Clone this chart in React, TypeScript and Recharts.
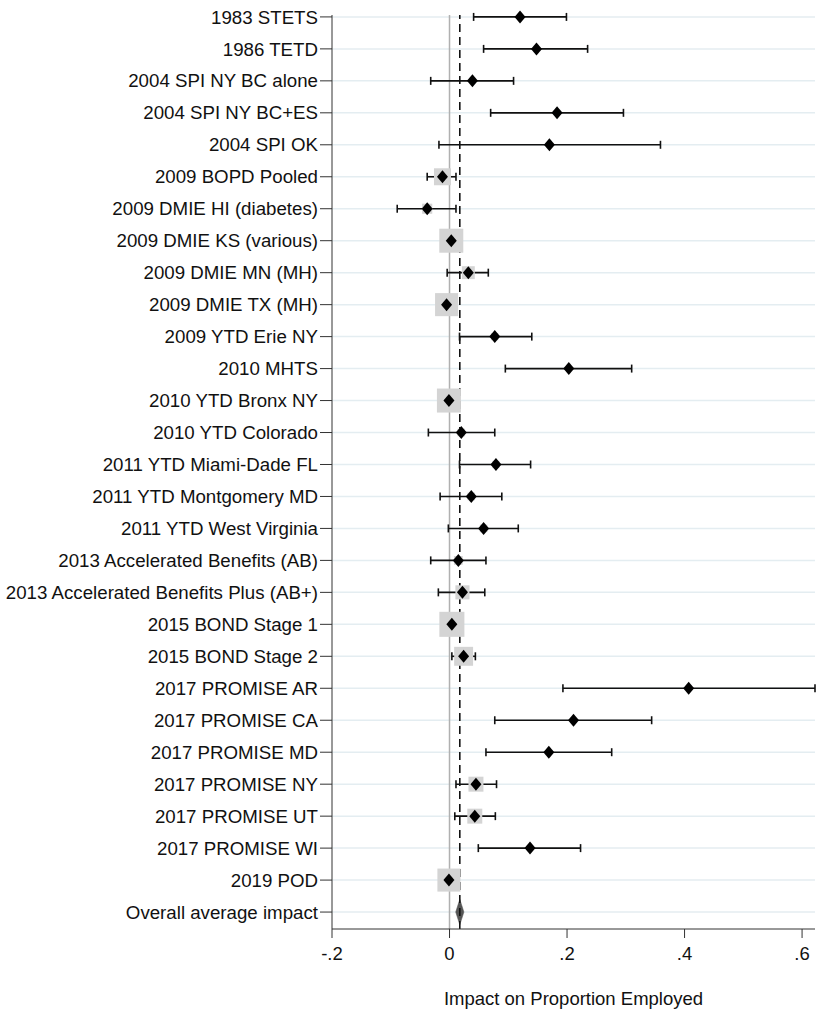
import {
  CartesianGrid,
  ErrorBar,
  ReferenceArea,
  ReferenceLine,
  Scatter,
  ScatterChart,
  XAxis,
  YAxis,
} from "recharts";

const studies = [
  "1983 STETS",
  "1986 TETD",
  "2004 SPI NY BC alone",
  "2004 SPI NY BC+ES",
  "2004 SPI OK",
  "2009 BOPD Pooled",
  "2009 DMIE HI (diabetes)",
  "2009 DMIE KS (various)",
  "2009 DMIE MN (MH)",
  "2009 DMIE TX (MH)",
  "2009 YTD Erie NY",
  "2010 MHTS",
  "2010 YTD Bronx NY",
  "2010 YTD Colorado",
  "2011 YTD Miami-Dade FL",
  "2011 YTD Montgomery MD",
  "2011 YTD West Virginia",
  "2013 Accelerated Benefits (AB)",
  "2013 Accelerated Benefits Plus (AB+)",
  "2015 BOND Stage 1",
  "2015 BOND Stage 2",
  "2017 PROMISE AR",
  "2017 PROMISE CA",
  "2017 PROMISE MD",
  "2017 PROMISE NY",
  "2017 PROMISE UT",
  "2017 PROMISE WI",
  "2019 POD",
];

const estimates = [
  0.12, 0.148, 0.039, 0.183, 0.17, -0.012, -0.038, 0.003, 0.032, -0.005,
  0.077, 0.203, -0.001, 0.02, 0.079, 0.037, 0.058, 0.015, 0.022, 0.004,
  0.024, 0.407, 0.211, 0.169, 0.045, 0.043, 0.137, -0.001,
];

const lower = [
  0.041, 0.058, -0.032, 0.07, -0.018, -0.038, -0.089, -0.012, -0.004, -0.017,
  0.017, 0.095, -0.013, -0.036, 0.017, -0.016, -0.002, -0.032, -0.019, -0.011,
  0.004, 0.193, 0.077, 0.062, 0.011, 0.009, 0.049, -0.012,
];

const upper = [
  0.199, 0.235, 0.109, 0.296, 0.359, 0.011, 0.011, 0.018, 0.066, 0.008,
  0.14, 0.31, 0.011, 0.077, 0.138, 0.089, 0.117, 0.062, 0.06, 0.019,
  0.044, 0.622, 0.344, 0.276, 0.08, 0.078, 0.223, 0.013,
];

// study weights (box area)
const weights = [
  0.3, 0.3, 0.5, 0.3, 0.2, 4.5, 1.6, 9, 2.6, 8.3,
  0.8, 0.4, 9, 0.9, 0.8, 0.9, 0.9, 1.2, 3.1, 9.8,
  5.6, 0.1, 0.3, 0.4, 3.5, 3.5, 0.6, 8.3,
];

const overallLabel = "Overall average impact";
const overall = { est: 0.0175, lo: 0.0105, hi: 0.0245 };

const xTicks = [-0.2, 0, 0.2, 0.4, 0.6];

const rows = studies.map((name, i) => ({
  name,
  row: i + 1,
  est: estimates[i],
  err: [estimates[i] - lower[i], upper[i] - estimates[i]],
  w: weights[i],
}));

const overallRow = studies.length + 1;
const yTicks = [...rows.map((r) => r.row), overallRow];

const font = "'Liberation Sans', Arial, sans-serif";

const fmtX = (v: number) => {
  if (v === 0) return "0";
  const s = String(Math.round(v * 10) / 10);
  return s.replace("0.", ".");
};

const fmtY = (v: number) => (v === overallRow ? overallLabel : studies[v - 1] ?? "");

function WeightBox(props: any) {
  const { cx, cy, payload } = props;
  const s = 8 * Math.sqrt(payload.w);
  return <rect x={cx - s / 2} y={cy - s / 2} width={s} height={s} fill="#d4d4d4" />;
}

function Diamond(props: any) {
  const { cx, cy } = props;
  const w = 5.5;
  const h = 6.5;
  return (
    <polygon
      points={`${cx},${cy - h} ${cx + w},${cy} ${cx},${cy + h} ${cx - w},${cy}`}
      fill="#000"
    />
  );
}

function OverallDiamond(props: any) {
  const { x, y, width, height } = props;
  const mx = x + width / 2;
  const my = y + height / 2;
  return (
    <polygon
      points={`${mx},${y} ${x + width},${my} ${mx},${y + height} ${x},${my}`}
      fill="#555"
      stroke="#555"
      strokeWidth={0.5}
    />
  );
}

export default function App() {
  return (
    <div style={{ width: 817, height: 1012, background: "#fff" }}>
      <style>{"body{margin:0}"}</style>
      <ScatterChart
        width={817}
        height={1012}
        margin={{ top: 15, right: 2, bottom: 0, left: 0 }}
      >
        <CartesianGrid
          vertical={false}
          horizontalValues={yTicks}
          stroke="#e4edf1"
          strokeWidth={1.5}
        />
        <XAxis
          type="number"
          dataKey="est"
          domain={[-0.2, 0.622]}
          ticks={xTicks}
          tickFormatter={fmtX}
          allowDataOverflow
          height={83}
          tickSize={9}
          tickMargin={9}
          stroke="#333"
          tick={{ fill: "#111", fontSize: 18.5, fontFamily: font }}
          label={{
            value: "Impact on Proportion Employed",
            position: "insideBottom",
            offset: 7,
            fill: "#111",
            fontSize: 18.5,
            fontFamily: font,
          }}
        />
        <YAxis
          type="number"
          dataKey="row"
          reversed
          domain={[0.94, 29.53]}
          ticks={yTicks}
          interval={0}
          tickFormatter={fmtY}
          width={332}
          tickSize={12}
          tickMargin={2}
          stroke="#333"
          tick={{ fill: "#111", fontSize: 18.7, fontFamily: font }}
        />
        <ReferenceLine x={0} stroke="#b0b0b0" strokeWidth={1.5} />
        <ReferenceLine x={overall.est} stroke="#111" strokeWidth={1.6} strokeDasharray="8 5" />
        <Scatter data={rows} shape={WeightBox} isAnimationActive={false} />
        <Scatter data={rows} shape={Diamond} isAnimationActive={false}>
          <ErrorBar dataKey="err" direction="x" width={4} stroke="#111" strokeWidth={1.6} />
        </Scatter>
        <ReferenceArea
          x1={overall.lo}
          x2={overall.hi}
          y1={overallRow - 0.4}
          y2={overallRow + 0.4}
          shape={OverallDiamond}
        />
      </ScatterChart>
    </div>
  );
}
